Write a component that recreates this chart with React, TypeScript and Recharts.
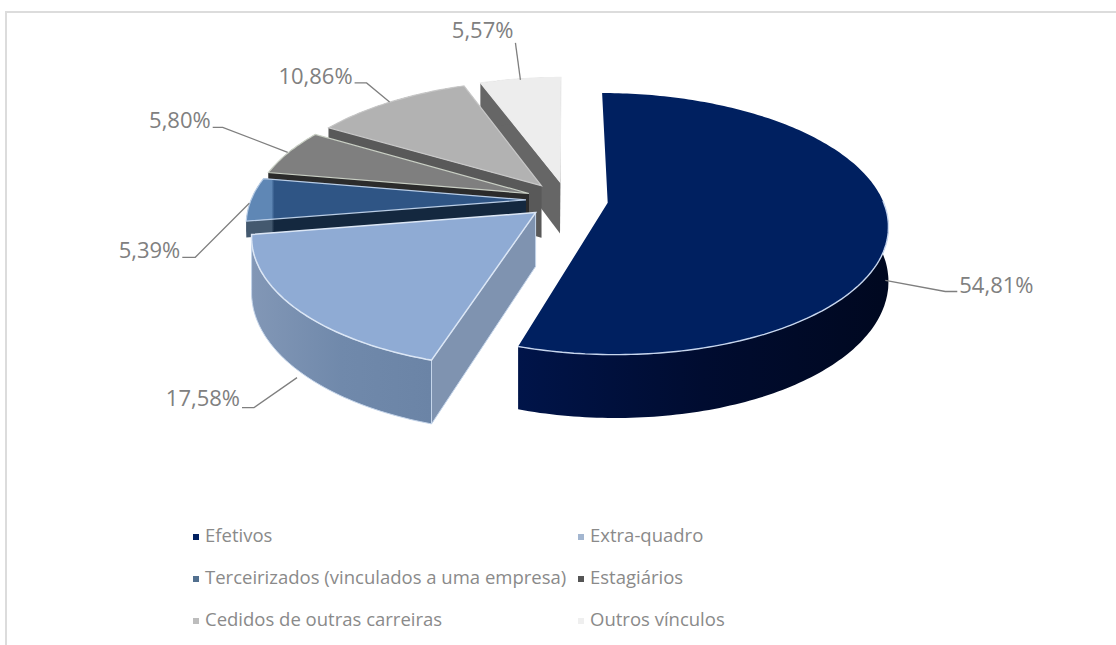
import { PieChart, Pie, Legend } from 'recharts';

const categories = ['Efetivos', 'Extra-quadro', 'Terceirizados (vinculados a uma empresa)', 'Estagiários', 'Cedidos de outras carreiras', 'Outros vínculos'];
const shares = [54.81, 17.58, 5.39, 5.80, 10.86, 5.57];
const topColors = ['#002060', '#8fabd4', '#2f5585', '#7f7f7f', '#b2b2b2', '#ededed'];
const wallColors = ['#000f38', '#7f93b0', '#1c3047', '#2b2b2b', '#595959', '#666666'];
const legendColors = ['#002060', '#a3b6d0', '#52708f', '#555555', '#bdbdbd', '#efefef'];
const edgeColors = ['#c7d6ee', '#dbe6f5', '#b9cde6', '#c9cfc4', '#c8c8c8', '#ededed'];

// leader placement: start shift x/y, elbow x/y from the start, tail, text shift y
const leaders = [
  [-3, 58, 60, 11, 12, -4],
  [1, 69, -43, 30, -12, -7],
  [-2, 4, -54, 54, -13, -5],
  [-1, 0, -65, -25, -10, -5],
  [-1, 0, -23, -19, -12, -5],
  [0, 1, -5, -37, 0, -11],
];

// view of the pie in perspective: the explosion happens before projecting
const SQUASH = 0.46;
const PERSPECTIVE = 0.16;
const DEPTH = 53;
const EXPLODE = 41;

const RAD = Math.PI / 180;

const project = (angle: number, mid: number, r: number, R: number) => {
  const X = r * Math.cos(angle * RAD) + EXPLODE * Math.cos(mid * RAD);
  const V = -r * Math.sin(angle * RAD) - EXPLODE * Math.sin(mid * RAD);
  const w = 1 - (PERSPECTIVE * V) / R;
  return { x: X / w, y: (V * SQUASH) / w, drop: DEPTH / w, front: V > 0 };
};

const pts = (list: number[][], close = true) => list.map((p, i) => `${i ? 'L' : 'M'}${p[0].toFixed(1)} ${p[1].toFixed(1)}`).join(' ') + (close ? ' Z' : '');

const Slice3D = (props: any) => {
  const { cx, cy, outerRadius, startAngle, endAngle, midAngle, payload } = props;
  const idx = payload.order;
  // the third slice only shows a thin band above the slice in front of it
  const dropScale = idx === 2 ? 0.3 : 1;
  const a = project(0, midAngle, 0, outerRadius);
  const apex = { x: cx + a.x, y: cy + a.y, drop: a.drop * dropScale };
  const steps = Math.max(4, Math.round(Math.abs(endAngle - startAngle)));
  const arc = [];
  for (let i = 0; i <= steps; i++) {
    const p = project(startAngle + ((endAngle - startAngle) * i) / steps, midAngle, outerRadius, outerRadius);
    arc.push({ x: cx + p.x, y: cy + p.y, drop: p.drop * dropScale, front: p.front });
  }
  const first = arc[0];
  const last = arc[arc.length - 1];
  const top = [[apex.x, apex.y], ...arc.map((p) => [p.x, p.y])];
  // the big slice shows its outer wall only on the near half
  const shown = idx === 0 ? arc.filter((p) => p.front) : arc;
  const outer = [...shown.map((p) => [p.x, p.y]), ...shown.slice().reverse().map((p) => [p.x, p.y + p.drop])];
  const wall = (p: any) => [[apex.x, apex.y], [p.x, p.y], [p.x, p.y + p.drop], [apex.x, apex.y + apex.drop]];
  const rim = arc.filter((p) => p.front).map((p) => [p.x, p.y]);
  const outerFill = idx === 0 ? 'url(#sideDark)' : idx === 1 ? 'url(#sideBlue)' : idx === 2 ? '#44596f' : payload.wall;
  const wallFill = idx === 2 ? 'url(#wallThird)' : payload.wall;
  return (
    <g>
      {idx !== 0 && <path d={pts(wall(first))} fill={wallFill} />}
      {idx !== 0 && <path d={pts(wall(last))} fill={wallFill} stroke={idx === 1 ? '#c5d5ea' : 'none'} />}
      <path d={pts(outer)} fill={outerFill} stroke={idx === 1 ? '#c5d5ea' : 'none'} strokeWidth={1} />
      <path d={pts(top)} fill={idx === 2 ? 'url(#topThird)' : payload.top} stroke={idx === 0 ? 'none' : payload.edge} strokeWidth={idx === 1 ? 1.5 : 1.2} />
      {idx === 0 && <path d={pts(rim, false)} fill="none" stroke={payload.edge} strokeWidth={1.4} />}
    </g>
  );
};

const SliceLabel = (props: any) => {
  const { cx, cy, midAngle, outerRadius, payload } = props;
  const edge = project(midAngle, midAngle, outerRadius, outerRadius);
  const [sdx, sdy, dx, dy, tail, tdy] = leaders[payload.order];
  const sx = cx + edge.x + sdx;
  const sy = cy + edge.y + sdy;
  const ex = sx + dx;
  const ey = sy + dy;
  const left = dx < 0;
  const text = payload.value.toFixed(2).replace('.', ',') + '%';
  return (
    <g>
      <path d={`M${sx} ${sy} L${ex} ${ey} L${ex + tail} ${ey}`} fill="none" stroke="#7f7f7f" strokeWidth={1.3} />
      <text x={ex + tail + (left ? -2 : 2)} y={ey + tdy} textAnchor={left ? 'end' : 'start'} dominantBaseline="middle" fontFamily="'Open Sans'" fontSize={22} fill="#808080">{text}</text>
    </g>
  );
};

const LegendGrid = () => (
  <div style={{ display: 'grid', gridTemplateColumns: '385px 200px', rowGap: 16, fontFamily: "'Open Sans'", fontSize: 18.5, color: '#8a8a8a', lineHeight: '26px' }}>
    {categories.map((c, i) => (
      <div key={c} style={{ whiteSpace: 'nowrap' }}>
        <span style={{ display: 'inline-block', width: 6, height: 6, background: legendColors[i], marginRight: 6, verticalAlign: 'middle' }} />
        {c}
      </div>
    ))}
  </div>
);

// painted from back to front, so the order is turned round and the pie runs counter-clockwise
const rows = categories
  .map((name, i) => ({ name, value: shares[i], top: topColors[i], wall: wallColors[i], edge: edgeColors[i], fill: topColors[i], order: i }))
  .reverse();

export default function App() {
  return (
    <div style={{ position: 'absolute', left: 0, top: 0, width: 1116, height: 645, background: '#fff' }}>
      <div style={{ position: 'absolute', left: 5, top: 11, right: 0, bottom: 0, borderTop: '2px solid #dcdcdc', borderLeft: '2px solid #dcdcdc' }} />
      <PieChart width={1116} height={645} margin={{ top: 0, right: 0, bottom: 0, left: 0 }}>
        <defs>
          <linearGradient id="sideDark" x1="0" y1="0" x2="1" y2="0">
            <stop offset="0" stopColor="#001449" />
            <stop offset="0.5" stopColor="#000c30" />
            <stop offset="1" stopColor="#000820" />
          </linearGradient>
          <linearGradient id="sideBlue" x1="0" y1="0" x2="1" y2="0">
            <stop offset="0" stopColor="#8297b6" />
            <stop offset="0.5" stopColor="#7089ab" />
            <stop offset="1" stopColor="#6b84a6" />
          </linearGradient>
          <linearGradient id="topThird" x1="0" y1="0" x2="1" y2="0">
            <stop offset="0" stopColor="#5f87b5" />
            <stop offset="0.09" stopColor="#5f87b5" />
            <stop offset="0.1" stopColor="#2f5585" />
            <stop offset="1" stopColor="#2f5585" />
          </linearGradient>
          <linearGradient id="wallThird" x1="0" y1="0" x2="1" y2="0">
            <stop offset="0" stopColor="#44596f" />
            <stop offset="0.09" stopColor="#44596f" />
            <stop offset="0.1" stopColor="#14283f" />
            <stop offset="1" stopColor="#14283f" />
          </linearGradient>
        </defs>
        <Pie
          data={rows}
          dataKey="value"
          nameKey="name"
          cx={567}
          cy={200}
          outerRadius={275}
          startAngle={90}
          endAngle={450}
          paddingAngle={0}
          stroke="none"
          shape={Slice3D}
          activeShape={Slice3D}
          label={SliceLabel}
          labelLine={false}
          isAnimationActive={false}
        />
        <Legend content={LegendGrid} wrapperStyle={{ position: 'absolute', left: 193, top: 522, width: 600 }} />
      </PieChart>
    </div>
  );
}
